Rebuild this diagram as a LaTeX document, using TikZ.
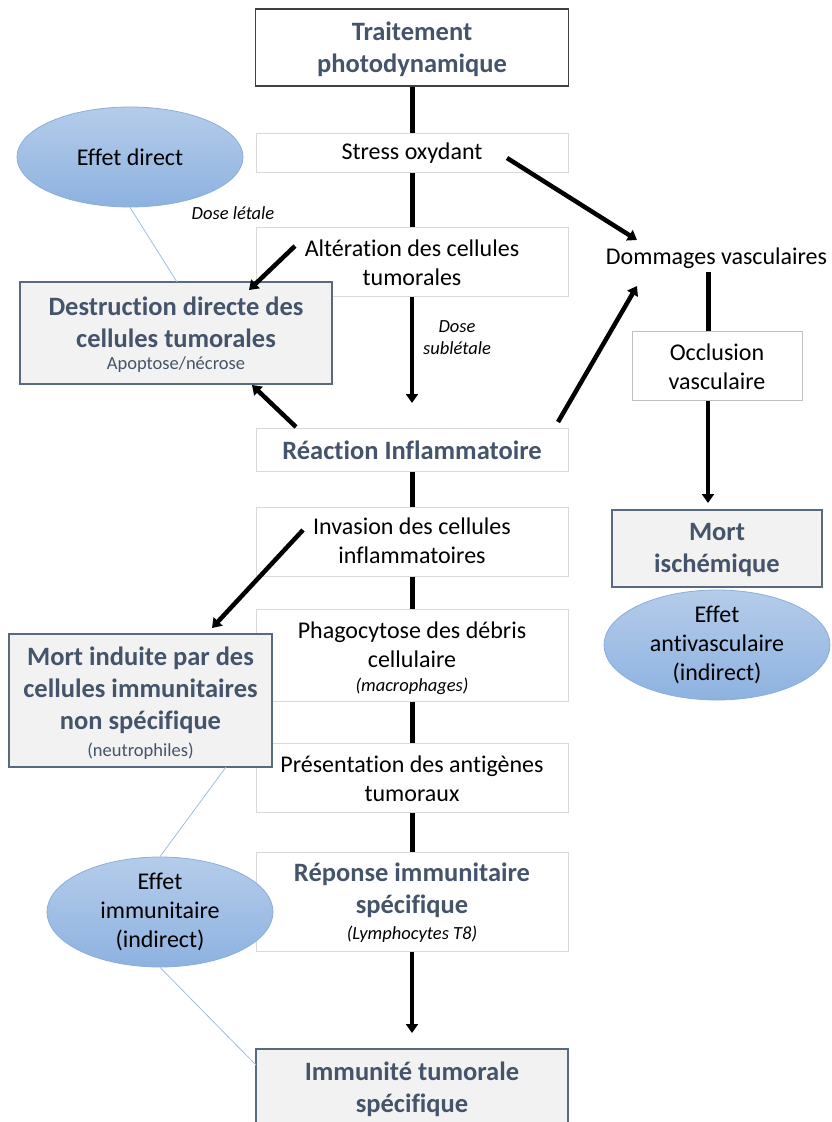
\documentclass[tikz,border=0pt]{standalone}
\usepackage{fontspec}
\setmainfont{Carlito}[Ligatures={NoCommon}]
\usetikzlibrary{shapes.geometric,arrows.meta}
\definecolor{slate}{HTML}{44546A}
\definecolor{gfill}{HTML}{F2F2F2}
\definecolor{gborder}{HTML}{5A6A7E}
\definecolor{lborder}{HTML}{D9D9D9}
\definecolor{etop}{HTML}{B5CCEA}
\definecolor{ebot}{HTML}{8DB2E0}
\definecolor{eborder}{HTML}{8AAEDB}
\definecolor{thinblue}{HTML}{9DBDE6}
\tikzset{
  ttl/.style={font=\fontsize{26.5}{32}\selectfont\bfseries, text=slate, align=center, inner sep=0},
  regt/.style={font=\fontsize{24}{29}\selectfont, text=black, align=center, inner sep=0},
  smlslate/.style={font=\fontsize{18.5}{22}\selectfont, text=slate, align=center, inner sep=0},
  smlit/.style={font=\fontsize{18.5}{22}\selectfont\itshape, text=black, align=center, inner sep=0},
  lightbox/.style={draw=lborder, line width=1pt, fill=white, rectangle, inner sep=0},
  graybox/.style={draw=gborder, line width=1.5pt, fill=gfill, rectangle, inner sep=0},
  topbox/.style={draw=black!75, line width=1.5pt, fill=white, rectangle, inner sep=0},
  effell/.style={ellipse, draw=eborder, line width=0.8pt, top color=etop, bottom color=ebot, minimum width=226pt, minimum height=100pt, inner sep=0, font=\fontsize{24}{29}\selectfont, align=center},
  mainline/.style={line width=5pt, black},
  arr/.style={line width=4.5pt, black, -{Triangle[length=9pt,width=12pt]}},
  thinline/.style={thinblue, line width=0.8pt},
}
\begin{document}
\begin{tikzpicture}[x=1pt,y=-1pt]
\useasboundingbox (0,0) rectangle (832,1122);
\clip (0,0) rectangle (832,1122);
% main column boxes
\node[topbox, minimum width=313pt, minimum height=77pt] (trait) at (412,47.5) {};
\node[ttl] (traitT) at (412,49) {Traitement\\photodynamique};
\node[lightbox, minimum width=312pt, minimum height=39pt] (stress) at (412,152.5) {};
\node[regt] (stressT) at (412,153) {Stress oxydant};
\node[lightbox, minimum width=312pt, minimum height=69pt] (alt) at (412,261.5) {};
\node[regt] (altT) at (412,263) {Altération des cellules\\tumorales};
\node[lightbox, minimum width=312pt, minimum height=43pt] (reac) at (412,449.5) {};
\node[ttl] (reacT) at (412,450) {Réaction Inflammatoire};
\node[lightbox, minimum width=312pt, minimum height=69pt] (inv) at (412,541.5) {};
\node[regt] (invT) at (412,541) {Invasion des cellules\\inflammatoires};
\node[lightbox, minimum width=312pt, minimum height=92pt] (phag) at (412,655) {};
\node[regt] (phagT) at (412,645) {Phagocytose des débris\\cellulaire};
\node[smlit] (phagS) at (412,686) {(macrophages)};
\node[lightbox, minimum width=312pt, minimum height=69pt] (pres) at (412,777.5) {};
\node[regt] (presT) at (412,779) {Présentation des antigènes\\tumoraux};
\node[lightbox, minimum width=312pt, minimum height=99pt] (rep) at (412,901.5) {};
\node[ttl] (repT) at (412,890) {Réponse immunitaire\\spécifique};
\node[smlit] (repS) at (412,934) {(Lymphocytes T8)};
\node[graybox, minimum width=312pt, minimum height=82pt] (imm) at (412,1090) {};
\node[ttl] (immT) at (412,1089) {Immunité tumorale\\spécifique};
% left boxes
\node[graybox, minimum width=312pt, minimum height=102pt] (dest) at (176,333) {};
\node[ttl] (destT) at (176,322) {Destruction directe des\\cellules tumorales};
\node[smlslate] (destS) at (176,365) {Apoptose/nécrose};
\node[graybox, minimum width=263pt, minimum height=133pt] (mort) at (140.5,700.5) {};
\node[ttl] (mortT) at (140.5,690) {Mort induite par des\\cellules immunitaires\\non spécifique};
\node[smlslate] (mortS) at (140.5,751) {(neutrophiles)};
% right side
\node[regt] (domm) at (716.5,258) {Dommages vasculaires};
\node[draw=black!25, line width=1pt, fill=white, rectangle, inner sep=0, minimum width=170pt, minimum height=69pt] (occl) at (717,365.5) {};
\node[regt] (occlT) at (717,367) {Occlusion\\vasculaire};
\node[graybox, minimum width=210pt, minimum height=77pt] (isch) at (717,548.5) {};
\node[ttl] (ischT) at (717,550) {Mort\\ischémique};
% ellipses
\node[effell] (ell1) at (130,157) {Effet direct};
\node[effell] (ell2) at (160,912) {Effet\\immunitaire\\(indirect)};
\node[effell] (ell3) at (717,645) {Effet\\antivasculaire\\(indirect)};
% labels
\node[smlit] (dl) at (233,213) {Dose létale};
\node[smlit] (dsl) at (457,338) {Dose\\sublétale};
% coordinates
\coordinate (tip1) at (412,403);
\coordinate (tip2) at (412,1033);
\coordinate (a1s) at (295,246);
\coordinate (a1e) at (249,290);
\coordinate (a2s) at (296,427);
\coordinate (a2e) at (252,385);
\coordinate (a3s) at (507,158);
\coordinate (a3e) at (637,240);
\coordinate (a4s) at (558,422);
\coordinate (a4e) at (637,286);
\coordinate (a5s) at (303,530);
\coordinate (a5e) at (212,628);
\coordinate (v1) at (708,272);
\coordinate (v2) at (708,503);
\coordinate (t1) at (177,282);
\coordinate (t2) at (226,767);
\coordinate (t3) at (256,1065);
% thin connectors
\draw[thinline] (ell1.south) -- (t1);
\draw[thinline] (t2) -- (ell2.north);
\draw[thinline] (ell2.south) -- (t3);
% main line
\draw[mainline] (trait.south) -- (stress.north);
\draw[mainline] (stress.south) -- (alt.north);
\draw[arr] (alt.south) -- (tip1);
\draw[mainline] (reac.south) -- (inv.north);
\draw[mainline] (inv.south) -- (phag.north);
\draw[mainline] (phag.south) -- (pres.north);
\draw[mainline] (pres.south) -- (rep.north);
\draw[arr] (rep.south) -- (tip2);
% diagonal arrows
\draw[arr] (a1s) -- (a1e);
\draw[arr] (a2s) -- (a2e);
\draw[arr] (a3s) -- (a3e);
\draw[arr] (a4s) -- (a4e);
\draw[arr] (a5s) -- (a5e);
% right column
\draw[mainline] (v1) -- (occl.north -| v1);
\draw[arr] (occl.south -| v1) -- (v2);
\end{tikzpicture}
\end{document}
